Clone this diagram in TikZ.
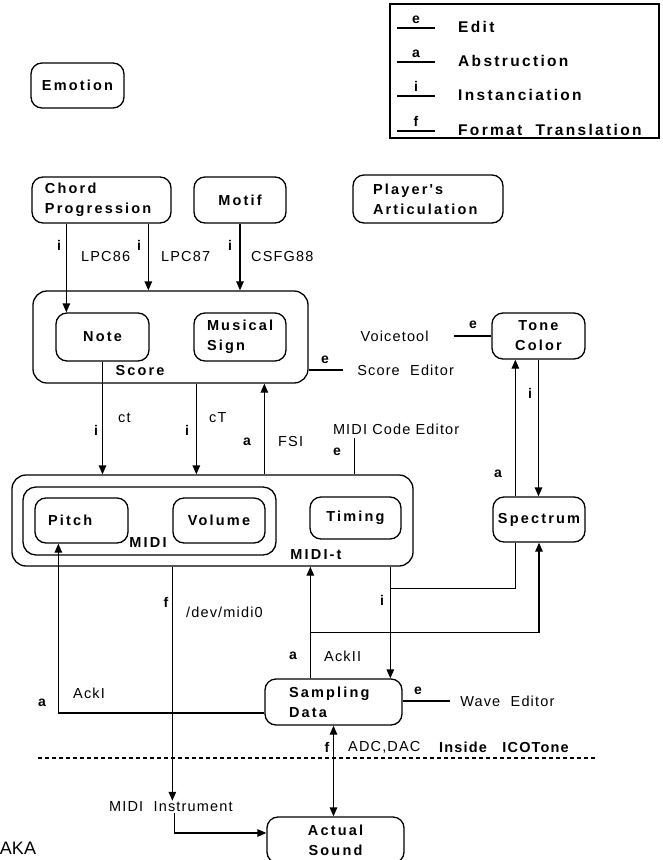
\documentclass[tikz,border=0pt]{standalone}
\usepackage{fontspec}
\setmainfont{Liberation Sans}
\newfontfamily\boxfont[LetterSpace=15]{Liberation Sans}
\newfontfamily\labfont[LetterSpace=8]{Liberation Sans}
\usetikzlibrary{arrows.meta, positioning, calc}

\tikzset{
  box/.style={draw, line width=1.3pt, rounded corners=11pt, inner sep=2pt, align=center,
    font=\boxfont\bfseries\fontsize{14.5}{20}\selectfont},
  boxtxt/.style={inner sep=1pt, font=\boxfont\bfseries\fontsize{14.5}{20}\selectfont},
  legtxt/.style={inner sep=1pt, font=\boxfont\bfseries\fontsize{15.5}{18}\selectfont},
  lab/.style={inner sep=1pt, font=\labfont\fontsize{14.5}{17}\selectfont},
  tag/.style={inner sep=1pt, font=\bfseries\fontsize{14}{16}\selectfont},
  ln/.style={line width=1.3pt},
  arr/.style={line width=1.3pt, -{Triangle[length=9pt,width=7.5pt]}},
  dblarr/.style={line width=1.3pt, {Triangle[length=9pt,width=7.5pt]}-{Triangle[length=9pt,width=7.5pt]}},
}

\begin{document}
\begin{tikzpicture}[x=1pt, y=-1pt]
  \useasboundingbox (0,0) rectangle (663,860);

  % legend
  \draw[line width=1.3pt] (390,4) rectangle (659,138);
  \foreach \k/\y/\t in {e/28/Edit, a/62/Abstruction, i/96/Instanciation, f/131/{Format\ \ Translation}} {
    \coordinate (lg\k) at (397,\y);
    \draw[ln] (lg\k) -- ++(38,0);
    \node[tag, above] (lgk\k) at ($(lg\k)+(19,-3)$) {\k};
    \node[legtxt, anchor=west] (lgt\k) at ($(lg\k)+(60,-1)$) {\t};
  }

  % upper boxes
  \node[box, minimum width=93pt, minimum height=45pt] (emotion) at (77.5,85.5) {Emotion};
  \node[box, minimum height=46pt, text width=113pt, inner xsep=13pt, align=left] (chord) at (101.5,200) {Chord\\Progression};
  \node[box, minimum width=92pt, minimum height=46pt] (motif) at (240,200) {Motif};
  \node[box, minimum height=48pt, text width=110pt, inner xsep=20pt, align=left] (player) at (428,199) {Player's\\Articulation};

  % score
  \node[box, minimum width=275pt, minimum height=92pt, rounded corners=14pt] (score) at (170.5,337) {};
  \node[box, minimum width=93pt, minimum height=48pt] (note) at (102.5,337) {Note};
  \node[box, minimum height=48pt, text width=66pt, inner xsep=13pt, align=left] (sign) at (240,337) {Musical\\Sign};
  \node[boxtxt] (scorelab) at (140,371) {Score};
  \node[box, minimum width=93pt, minimum height=46pt] (tone) at (538.5,336) {Tone\\Color};

  % MIDI
  \node[box, minimum width=401pt, minimum height=91pt, rounded corners=14pt] (midit) at (212.5,520.5) {};
  \node[box, minimum width=253pt, minimum height=68pt, rounded corners=13pt] (midi) at (149.5,521) {};
  \node[box, minimum height=45pt, text width=67pt, inner xsep=13pt, align=left] (pitch) at (81.5,520.5) {Pitch};
  \node[box, minimum width=92pt, minimum height=45pt] (volume) at (219,520.5) {Volume};
  \node[boxtxt] (midilab) at (148,543) {MIDI};
  \node[box, minimum width=91pt, minimum height=42pt] (timing) at (355.5,518) {Timing};
  \node[boxtxt] (mditlab) at (316,555) {MIDI-t};
  \node[box, minimum width=92pt, minimum height=45pt, inner sep=0pt] (spectrum) at (539,519.5) {Spectrum};

  % lower boxes
  \node[box, minimum height=46pt, text width=89pt, inner xsep=24pt, align=left] (sampling) at (333.5,702) {Sampling\\Data};
  \node[box, minimum width=137pt, minimum height=46pt] (actual) at (335.5,840) {Actual\\Sound};
  \node[lab, anchor=west] (instr) at (108,807) {MIDI\ \ Instrument};

  % chord, motif -> score
  \coordinate (chA) at ([xshift=35pt]chord.south west);
  \draw[arr] (chA) -- (chA |- note.north);
  \node[tag] (tchA) at (59,245) {i};
  \node[lab, anchor=west] (lpcA) at (80,257) {LPC86};
  \coordinate (chB) at ([xshift=117pt]chord.south west);
  \draw[arr] (chB) -- (chB |- score.north);
  \node[tag] (tchB) at (139,245) {i};
  \node[lab, anchor=west] (lpcB) at (160,257) {LPC87};
  \draw[arr] (motif.south) -- (motif.south |- score.north);
  \node[tag] (tmot) at (230,245) {i};
  \node[lab, anchor=west] (csfg) at (250,257) {CSFG88};

  % editors
  \coordinate (scE) at ([yshift=-33pt]score.east);
  \draw[ln] (scE) -- ++(34,0) node[lab, right=13pt] (sced) {Score\ \ Editor};
  \node[tag] (tscE) at (325,360) {e};
  \draw[ln] (tone.west) -- ++(-37,0) node[lab, left=24pt] (vtool) {Voicetool};
  \node[tag] (tvt) at (473,325) {e};

  % score -> MIDI
  \draw[arr] (note.south) -- (note.south |- midit.north);
  \node[tag] (tnt) at (96,430) {i};
  \node[lab, anchor=west] (ctA) at (117,418) {ct};
  \coordinate (scA) at ([xshift=164pt]score.south west);
  \draw[arr] (scA) -- (scA |- midit.north);
  \node[tag] (tscA) at (187,430) {i};
  \node[lab, anchor=west] (ctB) at (208,418) {cT};
  \coordinate (mtA) at ([xshift=253pt]midit.north west);
  \draw[arr] (mtA) -- (mtA |- score.south);
  \node[tag] (tmtA) at (247,442) {a};
  \node[lab, anchor=west] (fsi) at (277,442) {FSI};
  \coordinate (mtE) at ([xshift=343pt]midit.north west);
  \draw[ln] (mtE) -- ++(0,-36) node[lab, anchor=south west, xshift=-23pt, yshift=2pt] (mcedit) {MIDI Code Editor};
  \node[tag] (tmtE) at (337,452) {e};

  % tone color <-> spectrum
  \coordinate (spT) at ([xshift=23pt]spectrum.north west);
  \draw[arr] (spT) -- (spT |- tone.south);
  \node[tag] (tspT) at (498,474) {a};
  \draw[arr] (tone.south) -- (tone.south |- spectrum.north);
  \node[tag] (ttone) at (530,393) {i};

  % MIDI -> sampling, spectrum
  \coordinate (mtS) at ([xshift=379pt]midit.south west);
  \draw[arr] (mtS) -- (mtS |- sampling.north);
  \node[tag] (tmtS) at (382,600) {i};
  \coordinate (brA) at ($(mtS)+(0,22)$);
  \coordinate (spA) at ([xshift=23pt]spectrum.south west);
  \draw[ln] (brA) -| (spA);

  % sampling -> MIDI, spectrum
  \coordinate (sdA) at ([xshift=46pt]sampling.north west);
  \draw[arr] (sdA) -- (sdA |- midit.south);
  \node[tag] (tsdA) at (293,656) {a};
  \node[lab, anchor=west] (ack2) at (323,656) {AckII};
  \coordinate (brB) at ($(sdA)+(0,-46)$);
  \draw[arr] (brB) -| (spectrum.south);
  \coordinate (sdW) at ([yshift=-11pt]sampling.west);
  \coordinate (ptIn) at ([xshift=24pt]pitch.south west);
  \draw[arr] (sdW) -| (ptIn);
  \node[tag] (tsdW) at (42,703) {a};
  \node[lab, anchor=west] (ack1) at (72,693) {AckI};
  \draw[ln] ([yshift=1pt]sampling.east) -- ++(47,0) node[lab, right=9pt] (wave) {Wave\ \ Editor};
  \node[tag] (tsdE) at (418,691) {e};

  % MIDI -> instrument -> sound
  \coordinate (mdA) at ([xshift=161pt]midit.south west);
  \draw[arr] (mdA) -- (mdA |- instr.north);
  \node[tag] (tmdA) at (166,602) {f};
  \node[lab, anchor=west] (devm) at (185,612) {/dev/midi0};
  \coordinate (inB) at ($(instr.south -| mdA)+(2,0)$);
  \coordinate (acIn) at ([yshift=7pt]actual.west);
  \draw[arr] (inB) |- (acIn);

  % sampling <-> sound
  \draw[dblarr] (sampling.south) -- (sampling.south |- actual.north);
  \node[tag] (tsnd) at (327,747) {f};
  \node[lab, anchor=west] (adc) at (347,747) {ADC,DAC};
  \node[lab, anchor=west, font=\labfont\bfseries\fontsize{14.5}{17}\selectfont] (inside) at (438,747) {Inside\ \ \ ICOTone};
  \draw[line width=1.3pt, dash pattern=on 4pt off 3pt] (38,758) -- (597,758);

  \node[inner sep=0pt, font=\fontsize{18}{20}\selectfont] (aka) at (18,848) {AKA};
\end{tikzpicture}
\end{document}
